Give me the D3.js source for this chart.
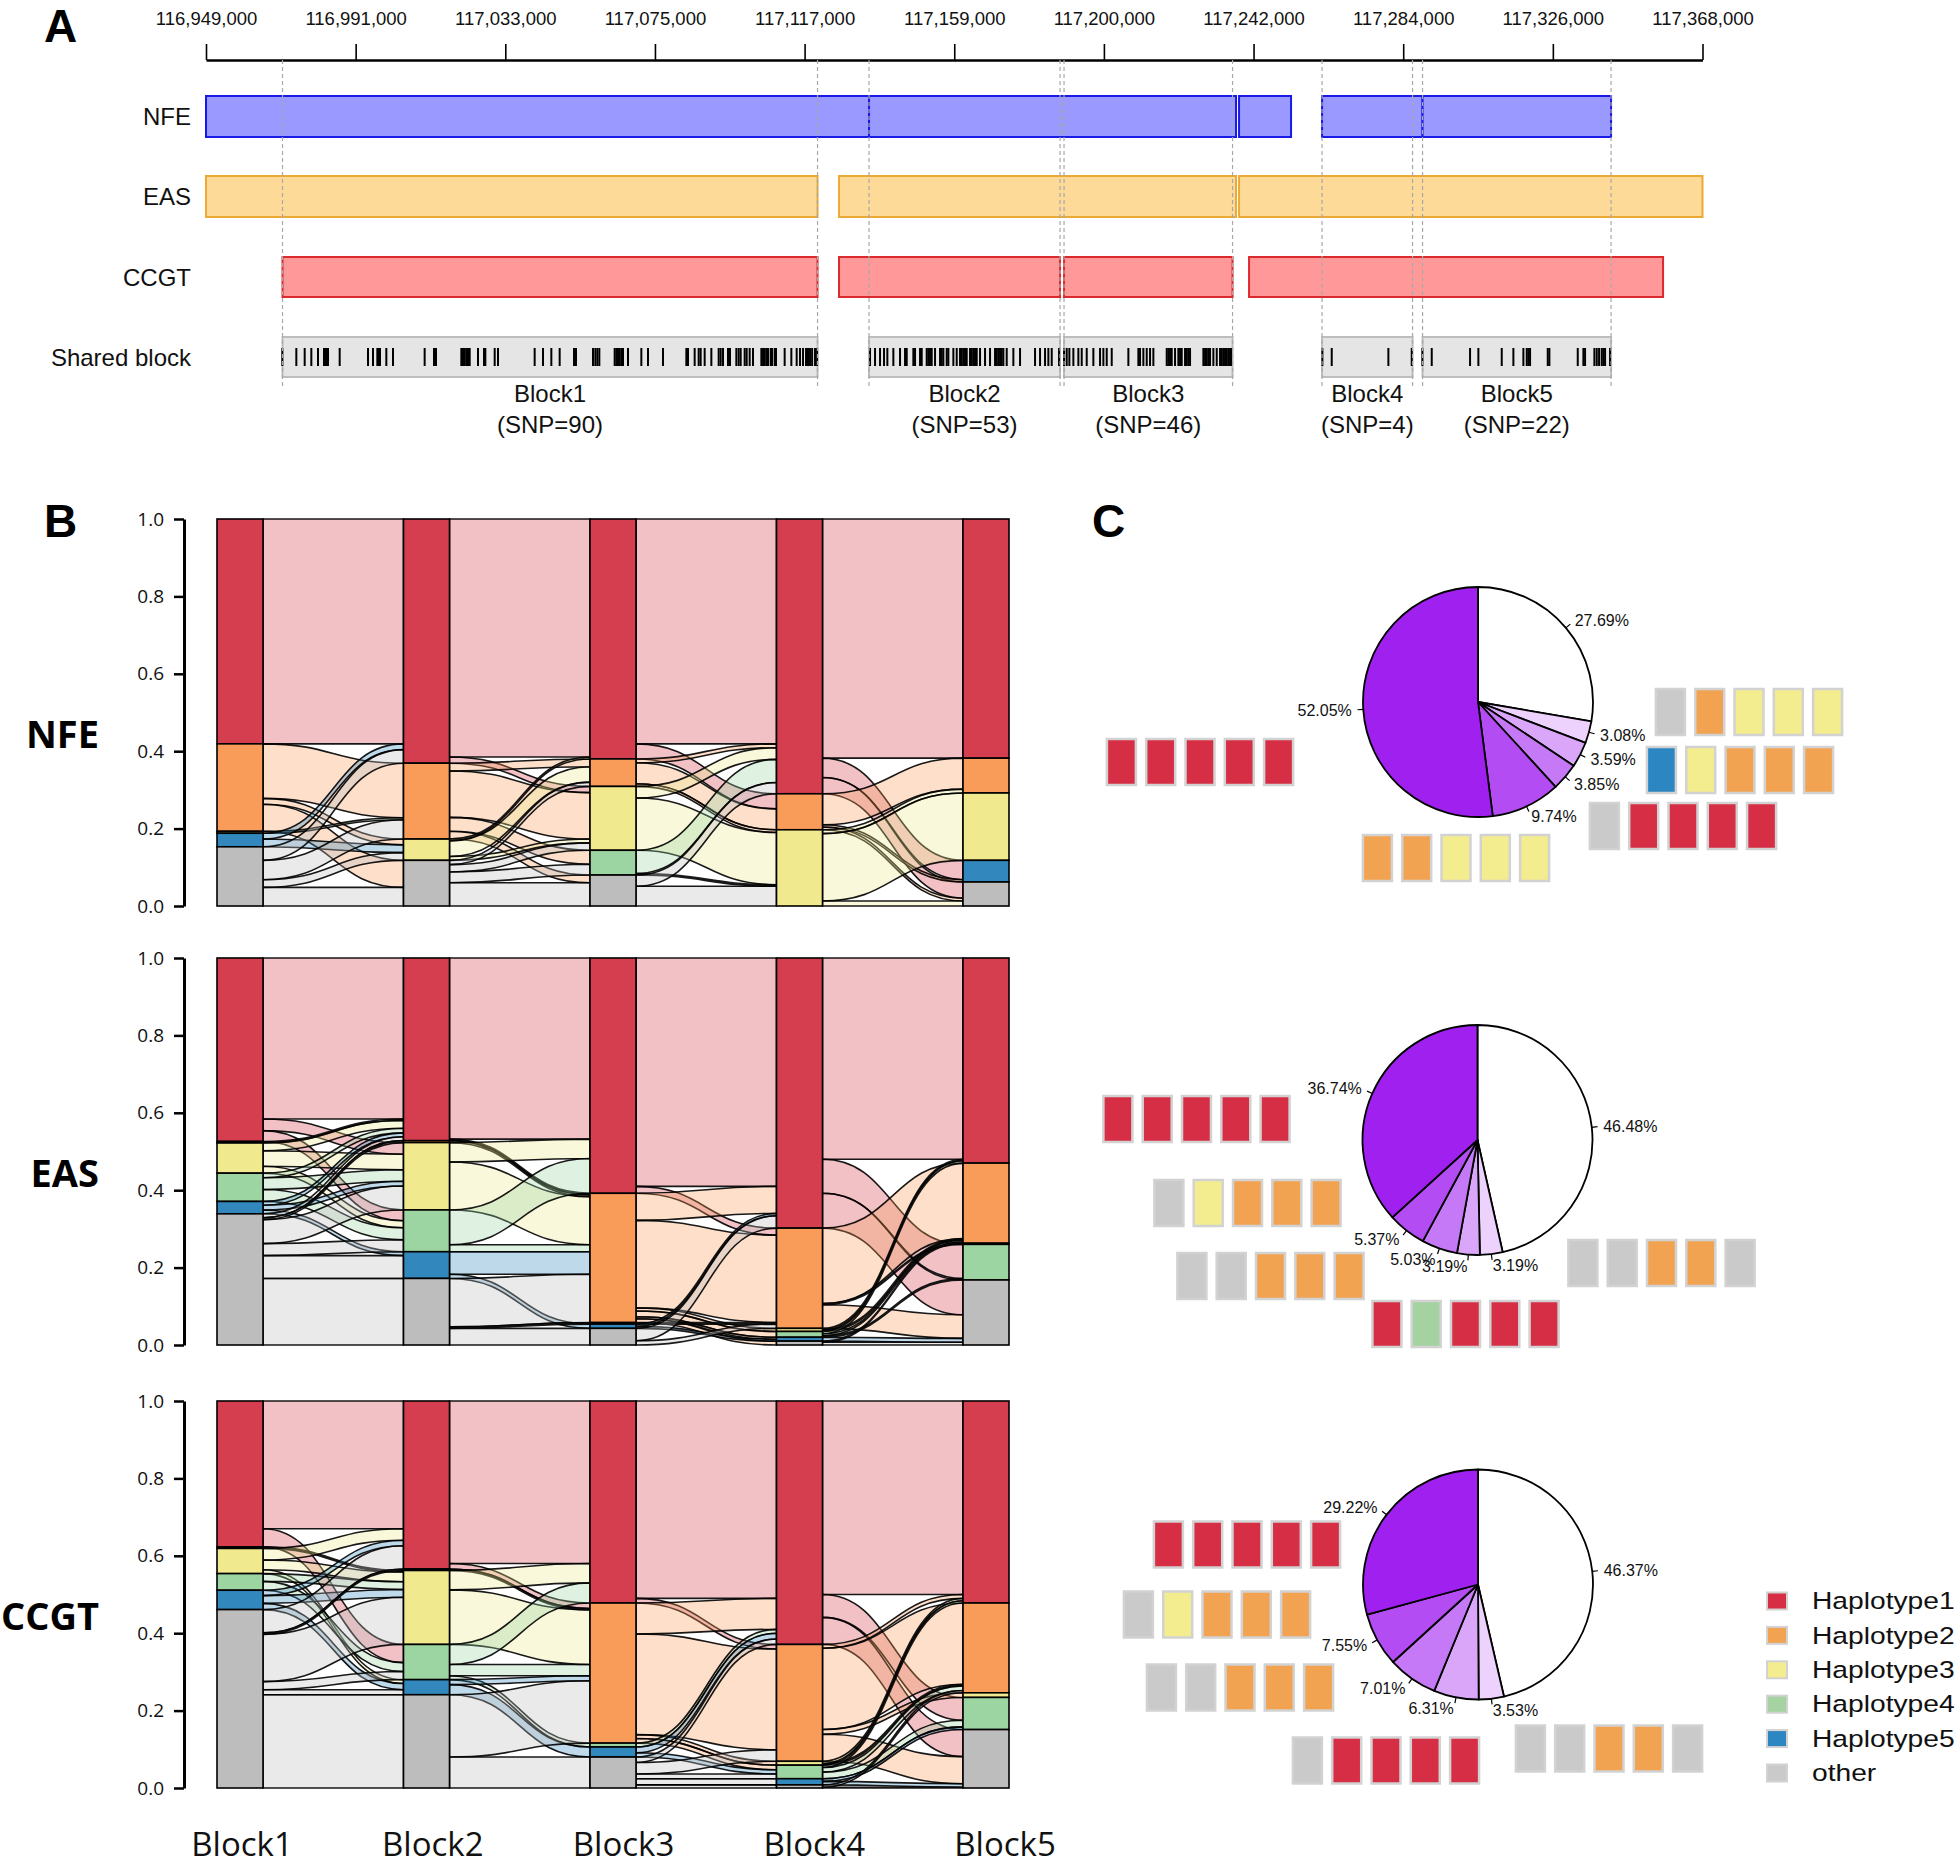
<!DOCTYPE html>
<html><head><meta charset="utf-8">
<script src="https://cdn.jsdelivr.net/npm/d3@7"></script>
<style>body{margin:0;background:#fff} svg{display:block}</style>
</head><body>
<svg id="chart" width="1960" height="1865"></svg>
<script>
// ================= DATA =================
// Panel A : genomic axis (bp)
const axisDomain = [116949000, 117368000];
const axisTickValues = [116949000,116990900,117032800,117074700,117116600,117158500,117200400,117242300,117284200,117326100,117368000];
const axisTickLabels = ["116,949,000","116,991,000","117,033,000","117,075,000","117,117,000","117,159,000","117,200,000","117,242,000","117,284,000","117,326,000","117,368,000"];

const trackNames = ["NFE","EAS","CCGT","Shared block"];
const nfeSegments  = [[116949000,117134640],[117134640,117237400],[117238240,117252800],[117261480,117289620],[117289620,117342400]];
const easSegments  = [[116949000,117120220],[117126240,117237400],[117238240,117368000]];
const ccgtSegments = [[116970420,117120220],[117126240,117188120],[117189240,117236420],[117241040,117356960]];

const blockNames  = ["Block1","Block2","Block3","Block4","Block5"];
const blockStarts = [116970420,117134640,117189240,117261480,117289620];
const blockEnds   = [117120220,117188120,117236420,117286820,117342400];
const blockSNPs   = [90,53,46,4,22];

// SNP positions (kb)
const snpBlock1 = [116970.37,116974.29,116976.63,116978.49,116980.36,116982.04,116982.41,116982.79,116983.16,116986.43,
 116994.36,116995.76,116996.97,116997.35,116997.72,116999.49,117001.36,117010.22,117012.84,117013.40,
 117020.49,117020.96,117021.42,117021.89,117022.36,117022.83,117025.16,117026.84,117027.21,117029.83,
 117030.76,117041.02,117043.36,117045.69,117048.02,117052.03,117052.59,117057.35,117058.01,117058.57,
 117059.13,117063.42,117063.89,117064.35,117064.82,117065.29,117065.76,117067.16,117070.89,117072.76,
 117076.96,117083.49,117083.96,117085.82,117086.94,117087.50,117088.62,117090.49,117092.54,117093.10,
 117093.76,117095.16,117095.72,117097.49,117098.14,117098.70,117099.82,117100.38,117101.22,117102.16,
 117104.49,117104.96,117105.42,117105.89,117106.36,117107.10,117107.48,117108.22,117108.60,117111.02,
 117112.89,117114.38,117115.32,117116.16,117117.00,117117.55,117118.12,117118.70,117119.52,117120.10];
const snpBlock2 = [117134.92,117136.32,117137.72,117138.84,117139.77,117141.45,117143.32,117144.72,117145.19,117147.05,
 117147.52,117148.92,117149.39,117150.79,117151.25,117151.72,117152.19,117153.12,117154.52,117154.99,
 117155.45,117156.39,117156.85,117158.25,117159.19,117160.12,117160.59,117161.05,117161.52,117161.99,
 117162.92,117163.39,117163.85,117164.32,117164.79,117165.72,117167.12,117168.52,117169.92,117170.39,
 117170.85,117171.32,117171.79,117172.25,117173.19,117175.05,117176.92,117181.12,117182.52,117183.92,
 117184.85,117185.79,117187.84];
const snpBlock3 = [117189.24,117189.99,117190.73,117191.85,117193.25,117194.19,117195.59,117197.45,117199.32,117200.25,
 117201.19,117202.59,117207.25,117210.05,117210.52,117211.45,117212.39,117213.32,117214.25,117217.99,
 117218.45,117218.92,117219.39,117220.32,117221.25,117221.72,117222.19,117223.12,117223.59,117224.05,
 117224.52,117228.25,117228.72,117229.19,117229.65,117230.12,117231.05,117231.99,117232.92,117233.39,
 117233.85,117234.32,117234.79,117235.25,117235.72,117236.00];
const snpBlock4 = [117261.57,117264.19,117280.05,117286.59];
const snpBlock5 = [117289.57,117292.19,117302.92,117305.25,117311.79,117315.05,117317.85,117318.79,117319.25,117319.72,
 117324.67,117325.13,117333.07,117334.65,117335.12,117337.73,117338.39,117339.04,117339.79,117340.25,117340.72,117342.12];

// Panel B : alluvial (categories stacked from top)
const categories = ["Haplotype1","Haplotype2","Haplotype3","Haplotype4","Haplotype5","other"];
const panelNames = ["NFE","EAS","CCGT"];
const yTickValues = [0,0.2,0.4,0.6,0.8,1.0];

const nfeStrata  = [[.581,.226,0,.005,.035,.153],[.631,.196,.055,0,0,.118],[.620,.071,.165,.064,0,.080],[.710,.093,.197,0,0,0],[.618,.090,.174,0,.056,.062]];
const easStrata  = [[.474,.004,.078,.073,.032,.339],[.472,.005,.174,.108,.069,.172],[.608,.334,0,.004,.011,.043],[.698,.259,.008,.015,.010,.010],[.530,.207,.003,.092,0,.168]];
const ccgtStrata = [[.377,.004,.065,.043,.050,.461],[.434,.004,.191,.091,.039,.241],[.522,.362,0,.010,.026,.080],[.629,.302,.010,.035,.016,.008],[.522,.232,.012,.083,0,.151]];

// flows between consecutive blocks: [fromCategory, toCategory, proportion]
const nfeFlows = [
 [[0,0,.581],[1,1,.141],[1,2,.015],[1,5,.070],[3,1,.005],[4,0,.015],[4,2,.020],[5,0,.035],[5,1,.050],[5,2,.020],[5,5,.048]],
 [[0,0,.615],[0,2,.016],[1,1,.020],[1,2,.120],[1,3,.036],[1,5,.020],[2,0,.005],[2,1,.040],[2,2,.010],[5,1,.011],[5,2,.019],[5,3,.028],[5,5,.060]],
 [[0,0,.581],[0,1,.039],[1,0,.010],[1,1,.054],[1,2,.007],[2,0,.030],[2,2,.135],[3,0,.060],[3,2,.004],[5,0,.029],[5,2,.051]],
 [[0,0,.618],[0,4,.050],[0,5,.042],[1,1,.080],[1,4,.006],[1,5,.007],[2,1,.010],[2,2,.174],[2,5,.013]]
];
const easFlows = [
 [[0,0,.416],[0,2,.030],[0,3,.028],[1,0,.004],[2,0,.020],[2,2,.040],[2,3,.018],[3,0,.012],[3,2,.030],[3,3,.031],[4,0,.010],[4,2,.012],[4,4,.010],[5,0,.010],[5,1,.005],[5,2,.062],[5,3,.031],[5,4,.059],[5,5,.172]],
 [[0,0,.468],[0,1,.004],[1,1,.005],[2,0,.050],[2,1,.124],[3,0,.090],[3,1,.018],[4,1,.058],[4,4,.011],[5,1,.125],[5,3,.004],[5,5,.043]],
 [[0,0,.590],[0,1,.018],[1,0,.070],[1,1,.226],[1,2,.008],[1,3,.015],[1,4,.005],[1,5,.010],[3,1,.004],[4,0,.006],[4,4,.005],[5,0,.032],[5,1,.011]],
 [[0,0,.520],[0,3,.088],[0,5,.090],[1,1,.195],[1,2,.003],[1,5,.061],[2,0,.004],[2,1,.004],[3,0,.006],[3,1,.005],[3,3,.004],[4,5,.010],[5,1,.003],[5,5,.007]]
];
const ccgtFlows = [
 [[0,0,.330],[0,3,.047],[1,2,.004],[2,0,.030],[2,2,.025],[2,4,.010],[3,2,.020],[3,3,.023],[4,0,.014],[4,2,.020],[4,4,.016],[5,0,.060],[5,1,.004],[5,2,.122],[5,3,.021],[5,4,.013],[5,5,.241]],
 [[0,0,.420],[0,1,.014],[1,1,.004],[2,0,.050],[2,1,.141],[3,0,.052],[3,1,.029],[3,3,.010],[4,1,.013],[4,4,.026],[5,1,.161],[5,5,.080]],
 [[0,0,.510],[0,1,.012],[1,0,.080],[1,1,.260],[1,2,.010],[1,3,.012],[3,0,.010],[4,0,.015],[4,3,.011],[5,0,.014],[5,1,.030],[5,3,.012],[5,4,.016],[5,5,.008]],
 [[0,0,.500],[0,3,.059],[0,5,.070],[1,0,.010],[1,1,.210],[1,2,.012],[1,5,.070],[2,0,.006],[2,1,.004],[3,0,.006],[3,1,.012],[3,3,.017],[4,3,.007],[4,5,.009],[5,1,.006],[5,5,.002]]
];

// Panel C : pies (percent, clockwise from 12 o'clock) and haplotype combinations
const nfePie  = [27.69, 3.08, 3.59, 3.85, 9.74, 52.05];
const easPie  = [46.48, 3.19, 3.19, 5.03, 5.37, 36.74];
const ccgtPie = [46.37, 3.53, 6.31, 7.01, 7.55, 29.22];
const H1="Haplotype1",H2="Haplotype2",H3="Haplotype3",H4="Haplotype4",H5="Haplotype5",OT="other";
const nfeCombos  = [null,[OT,H2,H3,H3,H3],[H5,H3,H2,H2,H2],[OT,H1,H1,H1,H1],[H2,H2,H3,H3,H3],[H1,H1,H1,H1,H1]];
const easCombos  = [null,[OT,OT,H2,H2,OT],[H1,H4,H1,H1,H1],[OT,OT,H2,H2,H2],[OT,H3,H2,H2,H2],[H1,H1,H1,H1,H1]];
const ccgtCombos = [null,[OT,OT,H2,H2,OT],[OT,H1,H1,H1,H1],[OT,OT,H2,H2,H2],[OT,H3,H2,H2,H2],[H1,H1,H1,H1,H1]];
const legendLabels = ["Haplotype1","Haplotype2","Haplotype3","Haplotype4","Haplotype5","other"];

// ================= STYLE / LAYOUT =================
const stratumColor = {Haplotype1:"#D53E4F",Haplotype2:"#F99C59",Haplotype3:"#F1E98E",Haplotype4:"#9DD5A2",Haplotype5:"#3288BD",other:"#BDBDBD"};
const boxColor = {Haplotype1:"#D62E44",Haplotype2:"#F2A352",Haplotype3:"#F3ED8F",Haplotype4:"#A4D3A1",Haplotype5:"#2B86C2",other:"#CACACA"};
const fontA = "'Liberation Sans', Arial, Helvetica, sans-serif";
const fontB = "'Open Sans', 'Noto Sans', sans-serif";

const svg = d3.select("#chart");

// ---------- Panel A ----------
const gA = svg.append("g");
const xA = d3.scaleLinear().domain(axisDomain).range([206, 1702.5]);
const axisG = gA.append("g").attr("transform","translate(0,60)")
  .call(d3.axisTop(xA).tickValues(axisTickValues).tickSize(16).tickSizeOuter(0).tickPadding(19)
    .tickFormat((d,i)=>axisTickLabels[i]));
axisG.select(".domain").attr("stroke","#000").attr("stroke-width",2.5);
axisG.selectAll(".tick line").attr("stroke","#000").attr("stroke-width",1.6);
axisG.selectAll(".tick text").attr("font-family",fontA).attr("font-size",18.5).attr("fill","#111");

const trackRows = [
  {name:trackNames[0], segs:nfeSegments, y:96, h:41, fill:"#9999FF", stroke:"#1A1AE6"},
  {name:trackNames[1], segs:easSegments, y:176, h:41, fill:"#FDDA98", stroke:"#EBAA35"},
  {name:trackNames[2], segs:ccgtSegments, y:257, h:40, fill:"#FF9999", stroke:"#DA2A2E"},
  {name:trackNames[3], segs:blockStarts.map((s,i)=>[s,blockEnds[i]]), y:337, h:40, fill:"#E5E5E5", stroke:"#BDBDBD"}
];
trackRows.forEach(r=>{
  gA.append("text").attr("x",191).attr("y",r.y+r.h/2).attr("text-anchor","end")
    .attr("dominant-baseline","central").attr("font-family",fontA).attr("font-size",24).attr("fill","#111").text(r.name);
  gA.selectAll(null).data(r.segs).enter().append("rect")
    .attr("x",d=>xA(d[0])).attr("width",d=>xA(d[1])-xA(d[0]))
    .attr("y",r.y).attr("height",r.h).attr("fill",r.fill).attr("stroke",r.stroke).attr("stroke-width",2);
});
// SNP ticks
const snpAll = [snpBlock1,snpBlock2,snpBlock3,snpBlock4,snpBlock5].flat();
gA.selectAll(null).data(snpAll).enter().append("line")
  .attr("x1",d=>xA(d*1000)).attr("x2",d=>xA(d*1000)).attr("y1",348).attr("y2",366)
  .attr("stroke","#000").attr("stroke-width",2);
// dashed guides
const guides = blockStarts.concat(blockEnds);
gA.selectAll(null).data(guides).enter().append("line")
  .attr("x1",d=>xA(d)).attr("x2",d=>xA(d)).attr("y1",60).attr("y2",388)
  .attr("stroke","#A8A8A8").attr("stroke-width",1.2).attr("stroke-dasharray","4,3");
// block labels
blockNames.forEach((b,i)=>{
  const cx = (xA(blockStarts[i])+xA(blockEnds[i]))/2;
  gA.append("text").attr("x",cx).attr("y",393).attr("text-anchor","middle").attr("dominant-baseline","central")
    .attr("font-family",fontA).attr("font-size",24).attr("fill","#111").text(b);
  gA.append("text").attr("x",cx).attr("y",424).attr("text-anchor","middle").attr("dominant-baseline","central")
    .attr("font-family",fontA).attr("font-size",24).attr("fill","#111").text(`(SNP=${blockSNPs[i]})`);
});

// panel letters
[["A",44,42],["B",44,537],["C",1092,537]].forEach(p=>{
  svg.append("text").attr("x",p[1]).attr("y",p[2]).attr("font-family",fontA).attr("font-weight","bold")
    .attr("font-size",46).attr("fill","#000").text(p[0]);
});

// ---------- Panel B ----------
const xB = d3.scalePoint().domain(blockNames).range([240, 986]);
const barW = 46;
const panelTops = [519, 958, 1401];
const panelH = 387;
const strataSets = [nfeStrata, easStrata, ccgtStrata];
const flowSets = [nfeFlows, easFlows, ccgtFlows];

function drawAlluvial(g, strata, flows, y) {
  const pos = strata.map(vals=>{ let top=1; return vals.map(v=>{ const s={top:top, bot:top-v, v:v}; top-=v; return s; }); });
  flows.forEach((fl,t)=>{
    const outOff = pos[t].map(s=>s.top);
    const inOff = pos[t+1].map(s=>s.top);
    const recs = fl.map(f=>({from:f[0], to:f[1], v:f[2]}));
    recs.slice().sort((a,b)=>a.from-b.from || a.to-b.to).forEach(r=>{ r.s0=outOff[r.from]; outOff[r.from]-=r.v; r.s1=outOff[r.from]; });
    recs.slice().sort((a,b)=>a.to-b.to || a.from-b.from).forEach(r=>{ r.t0=inOff[r.to]; inOff[r.to]-=r.v; r.t1=inOff[r.to]; });
    const x0 = xB(blockNames[t]) + barW/2, x1 = xB(blockNames[t+1]) - barW/2, xm = (x0+x1)/2;
    g.selectAll(null).data(recs).enter().append("path")
      .attr("d",r=>{
        const ys0=y(r.s0), ys1=y(r.s1), yt0=y(r.t0), yt1=y(r.t1);
        return `M${x0},${ys0}C${xm},${ys0} ${xm},${yt0} ${x1},${yt0}L${x1},${yt1}C${xm},${yt1} ${xm},${ys1} ${x0},${ys1}Z`;
      })
      .attr("fill",r=>stratumColor[categories[r.from]]).attr("fill-opacity",0.32)
      .attr("stroke","#000").attr("stroke-width",1.6).attr("stroke-opacity",0.9);
  });
  pos.forEach((col,b)=>{
    g.selectAll(null).data(col.map((s,i)=>({...s, cat:categories[i]})).filter(s=>s.v>0)).enter().append("rect")
      .attr("x",xB(blockNames[b])-barW/2).attr("width",barW)
      .attr("y",s=>y(s.top)).attr("height",s=>y(s.bot)-y(s.top))
      .attr("fill",s=>stratumColor[s.cat]).attr("stroke","#000").attr("stroke-width",1.6);
  });
}

panelNames.forEach((name,p)=>{
  const g = svg.append("g");
  const y = d3.scaleLinear().domain([0,1]).range([panelTops[p]+panelH, panelTops[p]]);
  drawAlluvial(g, strataSets[p], flowSets[p], y);
  const ax = g.append("g").attr("transform","translate(184,0)")
    .call(d3.axisLeft(y).tickValues(yTickValues).tickFormat(d3.format(".1f")).tickSize(10).tickSizeOuter(0).tickPadding(10));
  ax.select(".domain").attr("stroke","#000").attr("stroke-width",3);
  ax.selectAll(".tick line").attr("stroke","#000").attr("stroke-width",2.5);
  ax.selectAll(".tick text").attr("font-family",fontB).attr("font-size",19).attr("fill","#111");
  g.append("text").attr("x",99).attr("y",panelTops[p]+214).attr("text-anchor","end").attr("dominant-baseline","central")
    .attr("font-family",fontB).attr("font-weight","bold").attr("font-size",38).attr("fill","#000").text(name);
});
const xLab = d3.scalePoint().domain(blockNames).range([242, 1005]);
svg.selectAll(null).data(blockNames).enter().append("text")
  .attr("x",d=>xLab(d)).attr("y",1856).attr("text-anchor","middle")
  .attr("font-family",fontB).attr("font-size",33).attr("fill","#111").text(d=>d);

// ---------- Panel C ----------
const pieSets = [nfePie, easPie, ccgtPie];
const comboSets = [nfeCombos, easCombos, ccgtCombos];
const pieCenters = [[1478,702],[1477.5,1140],[1478,1584.5]];
const pieR = 115;
// offsets (px, from pie centre) of each combination row
const comboOffsets = [
  [null,[271,10],[262,68],[205,124],[-22,156],[-278,60]],
  [null,[184,123],[-12,184],[-207,136],[-230,63],[-281,-21]],
  [null,[131,164],[-92,176],[-238,103],[-261,30],[-231,-40]]
];
const ramp = d3.interpolateRgb("#A020F0","#FFFFFF");
const boxW = 29, boxH = 46, boxPitch = 39.3;

pieSets.forEach((vals,p)=>{
  const [cx,cy] = pieCenters[p];
  const g = svg.append("g").attr("transform",`translate(${cx},${cy})`);
  const arcs = d3.pie().sort(null).startAngle(0).endAngle(2*Math.PI)(vals);
  const n = vals.length;
  g.selectAll(null).data(arcs).enter().append("path")
    .attr("d", d3.arc().innerRadius(0).outerRadius(pieR))
    .attr("fill",(d,i)=>d3.color(ramp(1 - i/(n-1))).formatHex())
    .attr("stroke","#000").attr("stroke-width",1.8).attr("stroke-linejoin","round");
  arcs.forEach(d=>{
    const a = (d.startAngle+d.endAngle)/2, sx = Math.sin(a), sy = -Math.cos(a);
    g.append("line").attr("x1",sx*pieR).attr("y1",sy*pieR).attr("x2",sx*pieR*1.05).attr("y2",sy*pieR*1.05)
      .attr("stroke","#000").attr("stroke-width",1.2);
    g.append("text").attr("x",sx*pieR*1.1).attr("y",sy*pieR*1.1)
      .attr("text-anchor", sx < 0 ? "end" : "start").attr("dominant-baseline","central")
      .attr("font-family",fontA).attr("font-size",16).attr("fill","#111")
      .text(d3.format(".2f")(d.data)+"%");
  });
  comboSets[p].forEach((combo,i)=>{
    if(!combo) return;
    const off = comboOffsets[p][i];
    const gx = cx + off[0], gy = cy + off[1];
    svg.selectAll(null).data(combo).enter().append("rect")
      .attr("x",(c,k)=>gx + (k-2)*boxPitch - boxW/2).attr("y",gy - boxH/2)
      .attr("width",boxW).attr("height",boxH)
      .attr("fill",c=>boxColor[c]).attr("stroke","#D2D2D2").attr("stroke-width",2.5);
  });
});

// legend
const lg = svg.append("g");
legendLabels.forEach((l,i)=>{
  const yy = 1601 + i*34.4;
  lg.append("rect").attr("x",1767).attr("y",yy-8.5).attr("width",20).attr("height",17)
    .attr("fill",boxColor[l]).attr("stroke","#D2D2D2").attr("stroke-width",2);
  lg.append("text").attr("transform",`translate(1812,${yy}) scale(1.2,1)`).attr("dominant-baseline","central")
    .attr("font-family",fontA).attr("font-size",23.5).attr("fill","#111").text(l);
});
</script>
</body></html>
